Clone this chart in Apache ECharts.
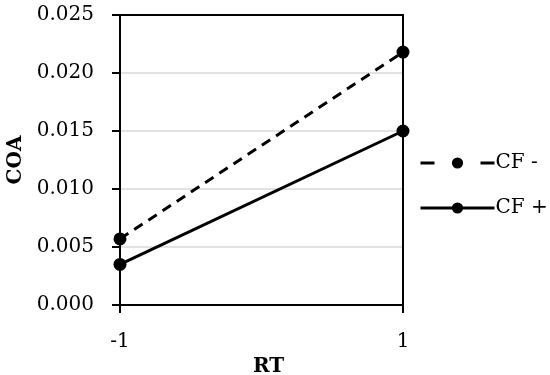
<!DOCTYPE html>
<html>
<head>
<meta charset="utf-8">
<script src="https://cdn.jsdelivr.net/npm/echarts@6/dist/echarts.min.js"></script>
<style>
  html, body { margin: 0; padding: 0; background: #fff; }
  #main { width: 550px; height: 375px; }
</style>
</head>
<body>
<div id="main"></div>
<script>
// values
var rtLevels = [-1, 1];
var cfMinus = [0.0057, 0.0218];
var cfPlus = [0.0035, 0.0150];
var seriesNames = ['CF -', 'CF +'];

var myChart = echarts.init(document.getElementById('main'));
var font = 'DejaVu Serif';
var blackLine = { color: '#000', width: 2 };

function pairs(vals) {
    return rtLevels.map(function (x, i) { return [x, vals[i]]; });
}

var option = {
    backgroundColor: '#fff',
    animation: false,
    grid: { left: 120, right: 147, top: 15, bottom: 70, outerBoundsMode: 'none', containLabel: false },
    legend: {
        orient: 'vertical',
        left: 414, top: 148,
        itemWidth: 74, itemHeight: 14, itemGap: 25,
        data: [
            { name: seriesNames[0], lineStyle: { width: 3, type: [14, 46] } },
            { name: seriesNames[1], lineStyle: { width: 3 } }
        ],
        textStyle: { fontFamily: font, fontSize: 20, color: '#000', padding: [0, 0, 0, -4] }
    },
    xAxis: [{
        type: 'value', min: -1, max: 1, interval: 2,
        name: 'RT', nameLocation: 'middle', nameGap: 43,
        nameTextStyle: { fontFamily: font, fontSize: 20, fontWeight: 'bold', color: '#000', padding: [0, 0, 0, 14] },
        axisLine: { onZero: false, lineStyle: blackLine },
        axisTick: { show: true, length: 8, lineStyle: blackLine },
        axisLabel: { fontFamily: font, fontSize: 20, color: '#000', margin: 27 },
        splitLine: { show: false }
    }, {
        type: 'value', min: -1, max: 1, interval: 2, position: 'top',
        axisLine: { show: true, onZero: false, lineStyle: blackLine },
        axisTick: { show: false }, axisLabel: { show: false }, splitLine: { show: false }
    }],
    yAxis: [{
        type: 'value', min: 0, max: 0.025, interval: 0.005,
        name: 'COA', nameLocation: 'middle', nameGap: 93,
        nameTextStyle: { fontFamily: font, fontSize: 20, fontWeight: 'bold', color: '#000' },
        axisLine: { show: true, onZero: false, lineStyle: blackLine },
        axisTick: { show: true, length: 8, lineStyle: blackLine },
        axisLabel: {
            fontFamily: font, fontSize: 20, color: '#000', margin: 26,
            formatter: function (v) { return v.toFixed(3); }
        },
        splitLine: { show: true, lineStyle: { color: '#d9d9d9', width: 1.5 } }
    }, {
        type: 'value', min: 0, max: 0.025, interval: 0.005, position: 'right',
        axisLine: { show: true, onZero: false, lineStyle: blackLine },
        axisTick: { show: false }, axisLabel: { show: false }, splitLine: { show: false }
    }],
    series: [
        {
            name: seriesNames[0], type: 'line', data: pairs(cfMinus),
            symbol: 'circle', symbolSize: 13, color: '#000',
            lineStyle: { color: '#000', width: 3, type: [10, 7] },
            itemStyle: { color: '#000' }
        },
        {
            name: seriesNames[1], type: 'line', data: pairs(cfPlus),
            symbol: 'circle', symbolSize: 13, color: '#000',
            lineStyle: { color: '#000', width: 3 },
            itemStyle: { color: '#000' }
        }
    ]
};

myChart.setOption(option);
window.addEventListener('resize', function () { myChart.resize(); });
</script>
</body>
</html>
